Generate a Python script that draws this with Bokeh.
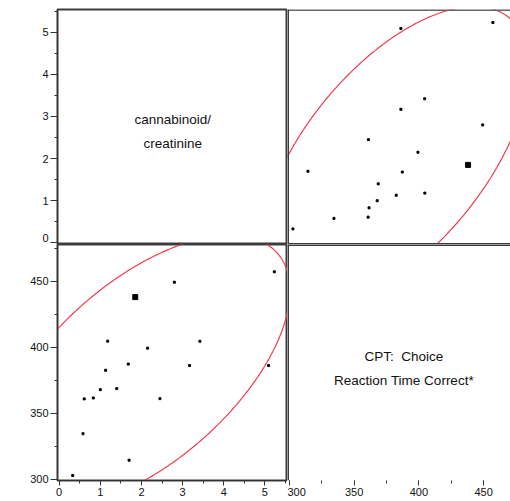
import numpy as np
from bokeh.plotting import figure
from bokeh.layouts import column, row
from bokeh.models import Range1d, SingleIntervalTicker, FixedTicker, LinearAxis, Span
from bokeh.embed import file_html
from bokeh.resources import INLINE
from bokeh.core.properties import value

# ---- data ----
cannabinoid = [5.23, 2.80, 1.85, 1.18, 3.42, 2.15, 1.68, 3.17, 5.09, 1.13,
               1.00, 1.40, 0.61, 0.83, 2.45, 0.58, 1.70, 0.33]
cpt_rt = [457.2, 449.3, 438.0, 404.6, 404.5, 399.3, 387.2, 386.1, 386.1, 382.5,
          367.8, 368.6, 360.8, 361.5, 361.0, 334.4, 314.3, 302.7]
highlighted = [False, False, True, False, False, False, False, False, False, False,
               False, False, False, False, False, False, False, False]
label_can = ["cannabinoid/", "creatinine"]
label_cpt = ["CPT: \u00a0Choice", "Reaction Time Correct*"]
can_tick_labels = ["0", "1", "2", "3", "4", "5"]
ellipse_level = 0.954

# ---- density ellipse from the data ----
X = np.array(cannabinoid)
Y = np.array(cpt_rt)
cov = np.cov(X, Y)
Lc = np.linalg.cholesky(cov)
t = np.linspace(0, 2 * np.pi, 400)
k = np.sqrt(-2 * np.log(1 - ellipse_level))
E = Lc @ np.vstack([np.cos(t), np.sin(t)]) * k
ell_can = X.mean() + E[0]
ell_cpt = Y.mean() + E[1]

small = [i for i, h in enumerate(highlighted) if not h]
big = [i for i, h in enumerate(highlighted) if h]

RED = "#F03C50"
FRAME = "#3c3c3c"
TOPLINE = "#666666"
AXIS = "#333333"
FONT = "Liberation Sans"

CAN_X = (-0.04, 5.55)
CAN_Y = (-0.04, 5.54)
CPT_X = (298.5, 470.8)
CPT_Y = (298.9, 477.9)

H_TOP = 235
H_BOT = 236
W_LEFT = 230
W_RIGHT = 223


def base(xr, yr, fw, fh, left, top, bottom, xloc, yloc, outline=True):
    p = figure(x_range=Range1d(*xr), y_range=Range1d(*yr), frame_width=fw, frame_height=fh,
               min_border_left=left, min_border_right=0, min_border_top=top,
               min_border_bottom=bottom, x_axis_location=xloc, y_axis_location=yloc,
               toolbar_location=None, output_backend="svg")
    if outline:
        p.outline_line_color = FRAME
        p.outline_line_width = 2
    else:
        p.outline_line_color = None
    p.background_fill_color = "white"
    p.border_fill_color = "white"
    p.grid.visible = False
    return p


def style_axis(ax, interval, major_out, minor_out):
    ax.ticker = SingleIntervalTicker(interval=interval, num_minor_ticks=2)
    ax.axis_line_color = AXIS
    ax.major_tick_line_color = AXIS
    ax.minor_tick_line_color = AXIS
    ax.major_tick_in = 0
    ax.minor_tick_in = 0
    ax.major_tick_out = major_out
    ax.minor_tick_out = minor_out
    ax.major_label_standoff = 2
    ax.major_label_text_font = FONT
    ax.major_label_text_font_size = "11px"
    ax.major_label_text_color = "#111111"


def edge(p, loc, dim, color=FRAME, width=3):
    p.add_layout(Span(location=loc, dimension=dim, line_color=color, line_width=width))


# top-left: label panel with cannabinoid axis
p1 = base(CAN_X, CAN_Y, W_LEFT, H_TOP, 57, 9, 0, None, "left")
axA = p1.yaxis[0]
style_axis(axA, 1, 7, 3)
axA.major_label_text_font_size = "1px"
axA.major_label_text_color = None
axA.major_label_standoff = 0
# tick labels on their own axis; the "0" label is lifted a little off the panel divider
lab_pos = [0.12, 1, 2, 3, 4, 5]
axB = LinearAxis(ticker=FixedTicker(ticks=lab_pos, minor_ticks=[]),
                 major_label_overrides={pos: lab for pos, lab in zip(lab_pos, can_tick_labels)},
                 axis_line_color=None, major_tick_line_color=None, minor_tick_line_color=None,
                 major_tick_in=0, major_tick_out=0, minor_tick_in=0, minor_tick_out=0,
                 major_label_standoff=2, major_label_text_font=FONT,
                 major_label_text_font_size="11px", major_label_text_color="#111111")
p1.add_layout(axB, "left")
p1.text(x=[2.76, 2.76], y=[2.93, 2.36], text=label_can, text_align="center",
        text_baseline="middle", text_font=value(FONT), text_font_size="13.5px",
        text_color="#111111")

# top-right: x = CPT, y = cannabinoid (no right-hand border: the panel runs off the page)
p2 = base(CPT_X, CAN_Y, W_RIGHT, H_TOP, 0, 9, 0, None, None, outline=False)
edge(p2, CAN_Y[1], "width", TOPLINE)
edge(p2, CAN_Y[0], "width")
edge(p2, CPT_X[0], "height")
p2.line(ell_cpt, ell_can, line_color=RED, line_width=1.2)
p2.scatter([cpt_rt[i] for i in small], [cannabinoid[i] for i in small],
           marker="square", size=2, color="black")
p2.scatter([cpt_rt[i] for i in big], [cannabinoid[i] for i in big],
           marker="square", size=5, color="black")

# bottom-left: x = cannabinoid, y = CPT
p3 = base(CAN_X, CPT_Y, W_LEFT, H_BOT, 57, 0, 21, "below", "left")
style_axis(p3.yaxis[0], 50, 7, 3)
style_axis(p3.xaxis[0], 1, 5, 3)
p3.line(ell_can, ell_cpt, line_color=RED, line_width=1.2)
p3.scatter([cannabinoid[i] for i in small], [cpt_rt[i] for i in small],
           marker="square", size=2, color="black")
p3.scatter([cannabinoid[i] for i in big], [cpt_rt[i] for i in big],
           marker="square", size=5, color="black")

# bottom-right: label panel with CPT axis
p4 = base(CPT_X, CPT_Y, W_RIGHT, H_BOT, 0, 0, 21, "below", None, outline=False)
style_axis(p4.xaxis[0], 50, 5, 3)
p4.xaxis[0].axis_line_color = None
edge(p4, CPT_Y[1], "width")
edge(p4, CPT_X[0], "height")
p4.text(x=[388.5, 388.5], y=[392.9, 374.9], text=label_cpt, text_align="center",
        text_baseline="middle", text_font=value(FONT), text_font_size="13.5px",
        text_color="#111111")

layout = column(row(p1, p2, spacing=0), row(p3, p4, spacing=0), spacing=0)

open("out.html", "w").write(file_html(layout, INLINE))
